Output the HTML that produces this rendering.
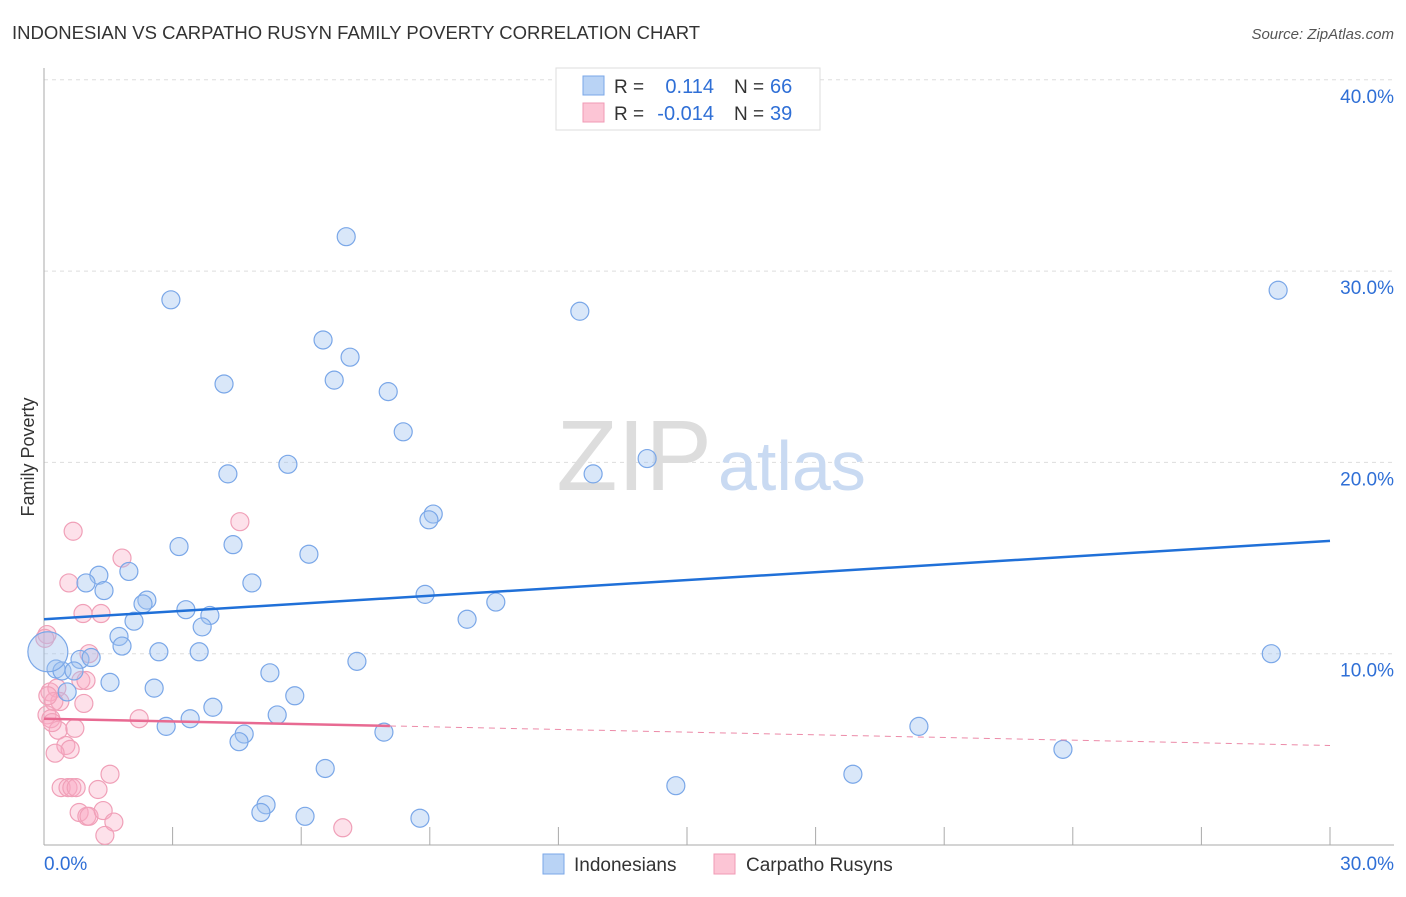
<!DOCTYPE html>
<html><head><meta charset="utf-8"><style>
body{margin:0;background:#fff;font-family:"Liberation Sans",sans-serif;}
svg text{font-family:"Liberation Sans",sans-serif;}
</style></head><body>
<svg id="chart" width="1406" height="892">
<text x="12" y="39" font-size="18.5" fill="#333">INDONESIAN VS CARPATHO RUSYN FAMILY POVERTY CORRELATION CHART</text>
<text x="1394" y="39" font-size="15" fill="#555" font-style="italic" text-anchor="end">Source: ZipAtlas.com</text>
<text transform="translate(34,457) rotate(-90)" font-size="18" fill="#333" text-anchor="middle">Family Poverty</text>
<g id="grid"></g>
<text x="712" y="490" font-size="100" fill="#ddd" font-family="Liberation Serif" text-anchor="end">ZIP</text>
<text x="718" y="490" font-size="70" fill="#c9daf2">atlas</text>
<g id="marks"></g>
<g>
<rect x="556" y="68" width="264" height="62" fill="#fff" stroke="#ddd"/>
<rect x="583" y="76" width="21" height="19" fill="#b9d3f5" stroke="#7aa7e8"/>
<rect x="583" y="103" width="21" height="19" fill="#fcc5d5" stroke="#f09ab5"/>
<text x="614" y="93" font-size="19" fill="#333">R =</text>
<text x="714" y="93" font-size="20" fill="#2f6fd6" text-anchor="end">0.114</text>
<text x="734" y="93" font-size="19" fill="#333">N =</text>
<text x="770" y="93" font-size="20" fill="#2f6fd6">66</text>
<text x="614" y="120" font-size="19" fill="#333">R =</text>
<text x="714" y="120" font-size="20" fill="#2f6fd6" text-anchor="end">-0.014</text>
<text x="734" y="120" font-size="19" fill="#333">N =</text>
<text x="770" y="120" font-size="20" fill="#2f6fd6">39</text>
</g>
<g>
<rect x="543" y="854" width="21" height="20" fill="#b9d3f5" stroke="#7aa7e8"/>
<text x="574" y="871" font-size="19" fill="#333">Indonesians</text>
<rect x="714" y="854" width="21" height="20" fill="#fcc5d5" stroke="#f09ab5"/>
<text x="746" y="871" font-size="19" fill="#333">Carpatho Rusyns</text>
</g>
</svg>
<script>
const xTicksLabels = ["0.0%", "30.0%"];
const yTickValues = [10, 20, 30, 40];
const blueX = [7.05,2.96,12.5,6.51,7.14,6.77,4.2,8.03,8.38,14.07,5.69,4.29,12.81,9.08,8.98,3.15,4.41,6.18,1.28,1.98,0.98,4.85,1.4,2.4,2.31,8.89,10.54,3.31,3.87,2.1,3.69,9.87,1.75,1.82,2.68,3.62,0.84,1.1,7.3,0.28,0.42,0.7,5.27,1.54,2.57,0.54,5.85,3.94,5.44,3.41,2.85,20.41,4.67,4.55,7.93,23.77,6.56,18.87,14.74,5.18,5.06,6.09,8.77,28.79,28.63,0.09];
const blueY = [31.8,28.5,27.9,26.4,25.5,24.3,24.1,23.7,21.6,20.2,19.9,19.4,19.4,17.3,17.0,15.6,15.7,15.2,14.1,14.3,13.7,13.7,13.3,12.8,12.6,13.1,12.7,12.3,12.0,11.7,11.4,11.8,10.9,10.4,10.1,10.1,9.7,9.8,9.6,9.2,9.1,9.1,9.0,8.5,8.2,8.0,7.8,7.2,6.8,6.6,6.2,6.2,5.8,5.4,5.9,5.0,4.0,3.7,3.1,2.1,1.7,1.5,1.4,29.0,10.0,10.1];
const pinkX = [0.68,4.57,1.82,0.58,0.91,1.33,0.07,1.05,0.14,0.3,0.86,0.98,0.37,0.23,0.07,0.16,0.93,2.22,0.33,0.72,0.51,0.61,0.26,1.54,0.4,0.56,0.65,0.75,1.26,0.82,1.0,1.05,1.38,1.63,1.42,6.97,0.09,0.19,0.02];
const pinkY = [16.4,16.9,15.0,13.7,12.1,12.1,11.0,10.0,8.0,8.2,8.6,8.6,7.5,7.5,6.8,6.6,7.4,6.6,6.0,6.1,5.2,5.0,4.8,3.7,3.0,3.0,3.0,3.0,2.9,1.7,1.5,1.5,1.8,1.2,0.5,0.9,7.8,6.4,10.8];
const blueTrend = [11.8, 15.9];
const pinkTrend = [6.6, 5.2];
const pinkSolidEnd = 8.07;

const X0=44,X1=1330,Y0=845,PY=19.13;
const sx=v=>X0+(v/30)*(X1-X0);
const sy=v=>Y0-v*PY;
const NS="http://www.w3.org/2000/svg";
function mk(tag,attrs,parent){const e=document.createElementNS(NS,tag);for(const k in attrs)e.setAttribute(k,attrs[k]);parent.appendChild(e);return e;}
const grid=document.getElementById('grid'), marks=document.getElementById('marks');
yTickValues.forEach(v=>{
  const l=mk('line',{x1:X0,x2:1394,y1:sy(v),y2:sy(v),stroke:'#ddd','stroke-dasharray':'4,4'},grid);
  
  
  const t=mk('text',{x:1394,y:sy(v)+23,'font-size':19,fill:'#2f6fd6','text-anchor':'end'},grid);
  t.textContent=v.toFixed(1)+'%';
  
  
});
mk('line',{x1:X0,x2:X0,y1:68,y2:Y0,stroke:'#aaa'},grid);
mk('line',{x1:X0,x2:1394,y1:Y0,y2:Y0,stroke:'#aaa'},grid);
for(let i=1;i<=10;i++){const x=sx(i*3);mk('line',{x1:x,x2:x,y1:Y0-18,y2:Y0,stroke:'#aaa'},grid);}
[[0,'start',X0],[30,'end',1394]].forEach((d,i)=>{
  const t=mk('text',{x:d[2],y:870,'font-size':19,fill:'#2f6fd6','text-anchor':d[1]},grid);
  t.textContent=xTicksLabels[i];
  
  
});
pinkX.forEach((x,i)=>{
  const c=mk('circle',{cx:sx(x),cy:sy(pinkY[i]),r:9,fill:'rgba(248,170,195,0.35)',stroke:'#f0a0b8','stroke-width':1.2},marks);
  
  
});
blueX.forEach((x,i)=>{
  const r=i===blueX.length-1?20:9;
  const c=mk('circle',{cx:sx(x),cy:sy(blueY[i]),r:r,fill:'rgba(160,195,240,0.4)',stroke:'#7aa7e8','stroke-width':1.2},marks);
  
  
});
const bl=mk('line',{x1:sx(0),y1:sy(blueTrend[0]),x2:sx(30),y2:sy(blueTrend[1]),stroke:'#2070d8','stroke-width':2.5},marks);


const pe=pinkTrend[0]+(pinkTrend[1]-pinkTrend[0])*pinkSolidEnd/30;
const pl=mk('line',{x1:sx(0),y1:sy(pinkTrend[0]),x2:sx(pinkSolidEnd),y2:sy(pe),stroke:'#e86a92','stroke-width':2.5},marks);


const pd=mk('line',{x1:sx(pinkSolidEnd),y1:sy(pe),x2:sx(30),y2:sy(pinkTrend[1]),stroke:'#ec8aa8','stroke-width':1,'stroke-dasharray':'6,5'},marks);


</script>
</body></html>
